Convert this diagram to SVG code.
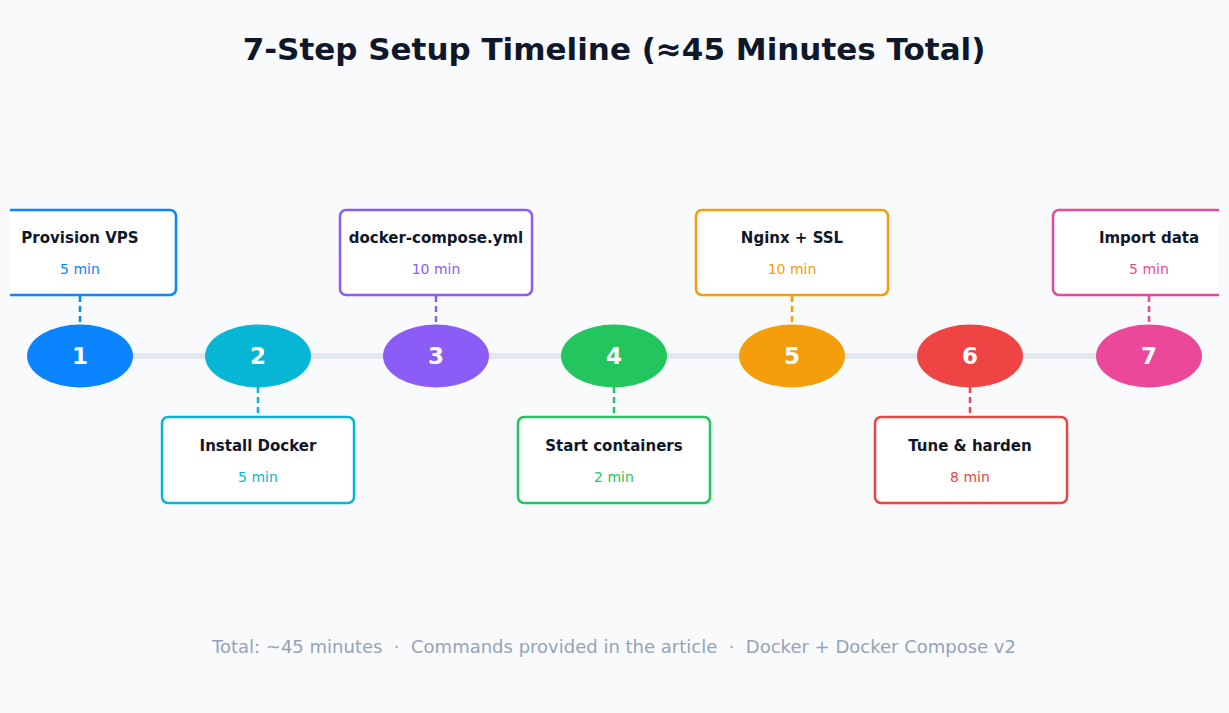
<svg xmlns="http://www.w3.org/2000/svg" width="1229" height="713" viewBox="0 0 1229 713">
<style>
text{font-family:"DejaVu Sans",sans-serif;text-anchor:middle}
.t{font-size:15px;font-weight:bold;fill:#0f172a}
.s{font-size:14px}
.n{font-size:23px;font-weight:bold;fill:#fff}
.b{fill:#fff;stroke-width:2.5}
.d{stroke-width:2.5;stroke-dasharray:6 4}
</style>
<defs><clipPath id="c"><rect x="10" y="0" width="1209" height="713"/></clipPath></defs>
<rect width="1229" height="713" fill="#f8fafc"/>
<text x="614" y="60" style="font-size:31px;font-weight:bold;fill:#0f172a">7-Step Setup Timeline (≈45 Minutes Total)</text>
<g id="connectors">
<line x1="80" y1="356" x2="1149" y2="356" stroke="#e2e8f0" stroke-width="6"/>
<line class="d" x1="80" y1="296" x2="80" y2="325" stroke="#0a84ff"/>
<line class="d" x1="258" y1="387" x2="258" y2="417" stroke="#06b6d4"/>
<line class="d" x1="436" y1="296" x2="436" y2="325" stroke="#8b5cf6"/>
<line class="d" x1="614" y1="387" x2="614" y2="417" stroke="#22c55e"/>
<line class="d" x1="792" y1="296" x2="792" y2="325" stroke="#f59e0b"/>
<line class="d" x1="970" y1="387" x2="970" y2="417" stroke="#ef4444"/>
<line class="d" x1="1149" y1="296" x2="1149" y2="325" stroke="#ec4899"/>
</g>
<g clip-path="url(#c)">
<g id="n1"><rect class="b" x="-16" y="210" width="192" height="85" rx="6" stroke="#0a84ff"/><text class="t" x="80" y="243">Provision VPS</text><text class="s" x="80" y="274" fill="#0a84ff">5 min</text><ellipse cx="80" cy="356" rx="53" ry="31.5" fill="#0a84ff"/><text class="n" x="80" y="364">1</text></g>
<g id="n2"><rect class="b" x="162" y="417" width="192" height="86" rx="6" stroke="#06b6d4"/><text class="t" x="258" y="451">Install Docker</text><text class="s" x="258" y="482" fill="#06b6d4">5 min</text><ellipse cx="258" cy="356" rx="53" ry="31.5" fill="#06b6d4"/><text class="n" x="258" y="364">2</text></g>
<g id="n3"><rect class="b" x="340" y="210" width="192" height="85" rx="6" stroke="#8b5cf6"/><text class="t" x="436" y="243">docker-compose.yml</text><text class="s" x="436" y="274" fill="#8b5cf6">10 min</text><ellipse cx="436" cy="356" rx="53" ry="31.5" fill="#8b5cf6"/><text class="n" x="436" y="364">3</text></g>
<g id="n4"><rect class="b" x="518" y="417" width="192" height="86" rx="6" stroke="#22c55e"/><text class="t" x="614" y="451">Start containers</text><text class="s" x="614" y="482" fill="#22c55e">2 min</text><ellipse cx="614" cy="356" rx="53" ry="31.5" fill="#22c55e"/><text class="n" x="614" y="364">4</text></g>
<g id="n5"><rect class="b" x="696" y="210" width="192" height="85" rx="6" stroke="#f59e0b"/><text class="t" x="792" y="243">Nginx + SSL</text><text class="s" x="792" y="274" fill="#f59e0b">10 min</text><ellipse cx="792" cy="356" rx="53" ry="31.5" fill="#f59e0b"/><text class="n" x="792" y="364">5</text></g>
<g id="n6"><rect class="b" x="875" y="417" width="192" height="86" rx="6" stroke="#ef4444"/><text class="t" x="970" y="451">Tune &amp; harden</text><text class="s" x="970" y="482" fill="#ef4444">8 min</text><ellipse cx="970" cy="356" rx="53" ry="31.5" fill="#ef4444"/><text class="n" x="970" y="364">6</text></g>
<g id="n7"><rect class="b" x="1053" y="210" width="192" height="85" rx="6" stroke="#ec4899"/><text class="t" x="1149" y="243">Import data</text><text class="s" x="1149" y="274" fill="#ec4899">5 min</text><ellipse cx="1149" cy="356" rx="53" ry="31.5" fill="#ec4899"/><text class="n" x="1149" y="364">7</text></g>
</g>
<text x="614" y="653" xml:space="preserve" style="font-size:18px;fill:#94a3b8;white-space:pre">Total: ~45 minutes  ·  Commands provided in the article  ·  Docker + Docker Compose v2</text>
</svg>
